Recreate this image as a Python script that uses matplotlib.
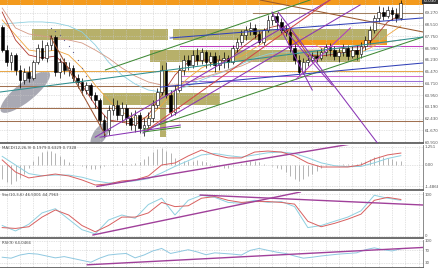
import matplotlib
matplotlib.use('Agg')
import matplotlib.pyplot as plt
from matplotlib.patches import Ellipse
from matplotlib.transforms import ScaledTranslation

# ---- candle data (index, open, high, low, close) ----
opens = [68.36, 66.87, 66.09, 66.55, 65.58, 64.93, 65.45, 65.06, 66.09, 67.00,
         66.35, 67.20, 67.71, 65.45, 66.09, 65.58, 65.71, 65.06, 64.80, 64.28,
         64.60, 63.96, 63.63, 62.34, 61.69, 62.98, 63.31, 62.66, 63.11, 62.47,
         62.01, 62.66, 61.82, 62.01, 62.47, 63.31, 64.15, 65.58, 63.96, 62.85,
         64.28, 65.58, 66.22, 65.90, 66.55, 66.22, 66.74, 66.09, 66.48, 65.90,
         66.22, 66.35, 66.09, 67.00, 67.39, 67.84, 68.17, 68.30, 67.91, 67.39,
         68.17, 68.82, 69.08, 68.69, 68.17, 68.04, 67.00, 66.22, 65.45, 66.09,
         66.22, 66.48, 66.35, 66.74, 67.07, 66.87, 66.48, 66.74, 67.00, 66.48,
         66.87, 66.61, 67.13, 67.52, 68.17, 68.95, 69.33, 69.08, 69.46, 69.20,
         68.95]
highs = [68.49, 67.20, 66.74, 66.68, 65.90, 65.71, 65.84, 66.22, 67.26, 67.52,
         67.39, 67.84, 67.84, 66.35, 66.35, 66.09, 65.90, 65.32, 65.06, 64.80,
         64.73, 64.15, 63.76, 62.66, 63.31, 63.76, 63.63, 63.50, 63.37, 62.85,
         62.98, 62.85, 62.47, 62.85, 63.63, 64.41, 65.90, 66.09, 64.28, 64.60,
         65.90, 66.55, 66.55, 66.87, 67.00, 67.00, 66.87, 66.74, 66.74, 66.55,
         66.74, 66.55, 67.20, 67.65, 68.17, 68.43, 68.69, 68.56, 68.17, 68.30,
         69.14, 69.33, 69.27, 68.95, 68.49, 68.30, 67.26, 66.55, 66.35, 66.55,
         66.74, 66.87, 67.00, 67.26, 67.33, 67.13, 67.00, 67.26, 67.20, 67.13,
         67.20, 67.39, 67.78, 68.43, 69.14, 69.72, 69.66, 69.72, 69.66, 69.59,
         70.11]
lows = [66.74, 65.84, 65.58, 65.25, 64.41, 64.67, 64.80, 64.93, 65.96, 66.22,
        66.09, 66.87, 65.19, 65.06, 65.32, 65.19, 64.80, 64.41, 63.96, 64.02,
        63.63, 63.11, 62.01, 61.23, 61.36, 62.66, 62.34, 62.21, 62.01, 61.69,
        61.56, 61.49, 61.30, 61.69, 62.21, 63.11, 63.96, 63.76, 62.60, 62.66,
        64.15, 65.25, 65.58, 65.71, 65.90, 65.96, 65.71, 65.84, 65.45, 65.58,
        65.71, 65.71, 65.96, 66.74, 67.20, 67.52, 67.84, 67.65, 67.26, 67.20,
        68.04, 68.49, 68.17, 67.97, 67.78, 66.74, 65.96, 65.25, 65.32, 65.84,
        66.09, 66.09, 66.22, 66.48, 66.48, 66.22, 66.09, 66.48, 66.22, 66.35,
        66.22, 66.35, 66.87, 67.26, 67.97, 68.69, 68.82, 68.95, 68.82, 68.69,
        68.82]
closes = [66.87, 66.09, 66.55, 65.58, 64.93, 65.45, 65.06, 66.09, 67.00, 66.35,
          67.20, 67.65, 65.45, 66.09, 65.58, 65.71, 65.06, 64.80, 64.28, 64.60,
          63.96, 63.63, 62.34, 61.69, 62.98, 63.31, 62.66, 63.11, 62.47, 62.01,
          62.66, 61.82, 62.01, 62.47, 63.31, 64.15, 65.58, 63.96, 62.85, 64.28,
          65.58, 66.22, 65.90, 66.55, 66.22, 66.74, 66.09, 66.48, 65.90, 66.22,
          66.35, 66.09, 67.00, 67.39, 67.84, 68.17, 68.30, 67.91, 67.39, 68.17,
          68.82, 69.08, 68.69, 68.17, 68.04, 67.00, 66.22, 65.45, 66.09, 66.22,
          66.48, 66.35, 66.74, 67.07, 66.87, 66.48, 66.74, 67.00, 66.48, 66.87,
          66.61, 67.13, 67.52, 68.17, 68.95, 69.33, 69.08, 69.46, 69.20, 68.95,
          69.92]
candle_idx = list(range(len(closes)))

# ---- moving averages, sampled every 3 bars ----
ma_idx = list(range(0, 91, 3))
ma_fast = [69.33, 67.52, 66.55, 66.35, 66.48, 65.71, 64.60, 63.31, 62.34, 62.21, 62.01,
           62.66, 63.96, 65.25, 66.09, 66.22, 66.22, 66.22, 67.00, 67.65, 68.30, 68.49,
           67.84, 66.55, 66.48, 66.61, 66.74, 66.87, 67.65, 68.69, 69.14]
ma_mid = [68.82, 67.84, 66.87, 66.74, 66.87, 66.55, 65.71, 64.60, 63.63, 62.85, 62.47,
          62.47, 63.31, 64.28, 65.06, 65.71, 66.09, 66.22, 66.48, 67.00, 67.52, 67.84,
          67.97, 67.52, 67.00, 66.74, 66.68, 66.74, 67.13, 67.84, 68.43]
ma_slow = [69.59, 68.30, 67.91, 67.78, 67.65, 67.52, 67.33, 66.87, 66.35, 65.71, 65.19,
           64.80, 64.60, 64.60, 64.80, 65.06, 65.32, 65.58, 65.84, 66.22, 66.48, 66.74,
           66.87, 66.87, 66.87, 66.94, 67.00, 67.07, 67.20, 67.39, 67.52]
ma_long = [68.56, 68.62, 68.69, 68.69, 68.62, 68.43, 68.04, 67.20, 66.09, 65.25, 64.67,
           64.28, 64.15, 64.28, 64.54, 64.93, 65.25, 65.58, 65.96, 66.35, 66.61, 66.74,
           66.74, 66.68, 66.61, 66.61, 66.68, 66.74, 66.87, 67.00, 67.13]

# parabolic SAR dots
sar_idx = [11, 12, 13, 14, 15, 16, 17, 18, 19, 20, 21, 22]
sar_val = [68.30, 68.10, 67.84, 67.52, 67.13, 66.74, 66.22, 65.71, 65.19, 64.60, 63.96, 63.31]

# ---- drawn objects on the price panel ----
# trend lines: (x0, p0, x1, p1, colour)
trend_lines = [
    (10.8, 67.78, 23.3, 61.36, '#9b5230'),
    (58.2, 70.11, 95.0, 68.04, '#9b5a2e'),
    (23.3, 65.58, 69.5, 70.11, '#3f8a36'),
    (31.8, 61.69, 95.0, 67.71, '#3f8a36'),
    (-0.5, 64.15, 95.0, 67.71, '#2f8f8f'),
    (37.9, 67.65, 95.0, 68.95, '#3342b8'),
    (35.7, 64.47, 95.0, 66.03, '#3342b8'),
    (62.3, 69.33, 84.7, 60.85, '#8a35b5'),
    (60.9, 69.33, 70.0, 64.28, '#8a35b5'),
    (63.4, 68.30, 74.5, 64.60, '#8a35b5'),
    (21.0, 61.23, 74.0, 70.11, '#8a35b5'),
    (31.8, 61.49, 80.8, 69.79, '#8a35b5'),
    (32.7, 61.69, 74.0, 70.11, '#d04848'),
    (66.4, 64.99, 78.6, 68.30, '#b040c0'),
    (22.1, 61.23, 40.2, 62.01, '#8a35b5'),
    (31.8, 61.56, 40.2, 61.88, '#3f8a36'),
]
# horizontal levels: (price, x0, x1, colour)
levels = [
    (65.51, -0.5, 95.0, '#e8a84a'),
    (64.54, -0.5, 95.0, '#a07050'),
    (67.13, 40.2, 95.0, '#c040c0'),
    (65.19, 40.2, 95.0, '#d070d0'),
    (64.86, 40.2, 95.0, '#9a70d8'),
    (63.11, -0.5, 40.0, '#a07050'),
    (62.27, -0.5, 95.0, '#a07050'),
    (69.27, 56.7, 95.0, '#a08060'),
]
# zones: (x0, x1, p0, p1, colour)
zones = [
    (-0.5, 95.0, 69.79, 70.11, '#f39a1d'),
    (6.8, 86.9, 67.52, 68.23, '#b7b06a'),
    (64.6, 86.9, 67.20, 67.52, '#f39a1d'),
    (22.8, 49.2, 63.31, 64.09, '#b7b06a'),
    (33.4, 80.8, 66.09, 66.87, '#b7b06a'),
    (35.7, 37.0, 61.23, 66.09, '#b7b06a'),
    (37.5, 38.6, 67.20, 68.23, '#ffffff'),
]
# shaded ellipses: (x, price, width_in, height_in, angle)
ellipses = [
    (5.2, 64.15, 0.62, 0.19, 39),
    (22.1, 61.40, 0.28, 0.13, 55),
]
price_ticks = [60.91, 61.67, 62.43, 63.19, 63.95, 64.71, 65.47, 66.23, 66.99,
               67.75, 68.51, 69.27]

# ---- MACD ----
macd_line = [0.35, -0.49, -0.90, -0.76, -0.63, -0.76, -1.04, -1.39, -1.32, -1.11, -1.04,
             -0.76, 0.00, 0.14, 0.63, 1.04, 0.70, 0.49, 0.49, 0.90, 0.97, 0.90,
             0.63, 0.14, -0.14, -0.14, -0.14, 0.00, 0.42, 0.70, 0.83]
macd_signal = [0.60, 0.00, -0.60, -0.75, -0.70, -0.70, -0.85, -1.10, -1.25, -1.20, -1.10,
               -0.95, -0.55, -0.10, 0.30, 0.70, 0.80, 0.65, 0.55, 0.70, 0.85, 0.90,
               0.80, 0.50, 0.15, -0.05, -0.12, -0.10, 0.15, 0.45, 0.65]
macd_hist = [-1.0, -1.2, -1.3, -1.1, -0.9, -0.6,
             -0.2, 0.3, 0.6, 0.9, 1.0, 1.0, 0.8, 0.6,
             0.4, 0.2, 0.1, 0.0, -0.1, -0.2, -0.3,
             -0.3, -0.2, -0.1, 0.0, 0.1, 0.1, 0.15, 0.1, 0.1, 0.15, 0.2,
             0.4, 0.6, 0.9, 1.1, 1.2, 1.0, 0.8, 0.5, 0.3,
             0.3, 0.3, 0.3, 0.35, 0.3, 0.2, 0.1, 0.0, -0.1, -0.2,
             -0.2, -0.1, 0.0, 0.1, 0.2, 0.3, 0.3, 0.2,
             0.1, 0.0, -0.1, -0.2, -0.3, -0.5,
             -0.8, -1.0, -1.1, -1.0, -0.8, -0.6, -0.4, -0.2,
             -0.1, 0.0, 0.0, 0.0, 0.05, 0.1, 0.1, 0.1, 0.2,
             0.3, 0.45, 0.55, 0.6, 0.55, 0.5, 0.4, 0.3, 0.25]
macd_trend = [(21.4, -1.49, 80.1, 1.53)]

# ---- Stochastic ----
stoch_k = [25, 12, 28, 55, 65, 40, 15, 5, 38, 50, 42, 75, 90, 50, 85, 97, 92, 80, 78, 85,
           80, 82, 70, 20, 25, 35, 45, 60, 97, 90, 85]
stoch_d = [20, 18, 22, 45, 62, 50, 25, 10, 25, 45, 45, 55, 80, 70, 72, 90, 94, 85, 80, 82,
           82, 80, 76, 35, 22, 30, 40, 52, 85, 92, 87]
stoch_trend = [(20.5, 2.4, 67.3, 104.8), (44.7, 97.6, 95.0, 73.8)]

# ---- RSI ----
rsi_idx = list(range(0, 91, 2))
rsi = [48, 45, 55, 60, 58, 52, 46, 50, 44, 38, 32, 45, 55, 58, 60, 46, 55, 68, 76, 60,
       66, 72, 65, 56, 62, 60, 58, 55, 70, 76, 70, 64, 60, 52, 45, 48, 52, 55, 58, 60,
       62, 72, 78, 72, 68, 75]
rsi_trend = [(19.2, 23.8, 95.0, 79.2)]

TXT = '#555555'
GRID = '#c8c8c8'
XMAX = 95.0
LW = 0.75

fig = plt.figure(figsize=(4.39, 2.68), dpi=100)
fig.patch.set_facecolor('white')
w = 423 / 439
ax = fig.add_axes([0, 1 - 143 / 268, w, 143 / 268])
ax_macd = fig.add_axes([0, 1 - 190 / 268, w, 45 / 268], sharex=ax)
ax_sto = fig.add_axes([0, 1 - 238 / 268, w, 46 / 268], sharex=ax)
ax_rsi = fig.add_axes([0, 0, w, 28 / 268], sharex=ax)

for a in (ax, ax_macd, ax_sto, ax_rsi):
    a.set_facecolor('white')
    a.set_xlim(-0.5, XMAX)
    a.set_xticks(range(1, 95, 3))
    a.grid(True, ls=(0, (1, 1.5)), color=GRID, lw=0.5, zorder=0)
    a.tick_params(axis='x', length=0, labelbottom=False)
    a.tick_params(axis='y', length=0, labelsize=2.9, pad=1.0, colors=TXT,
                  labelright=True, labelleft=False)
    for s in ('top', 'left'):
        a.spines[s].set_visible(False)
    a.spines['right'].set_color('#777777')
    a.spines['right'].set_linewidth(0.6)
    a.spines['bottom'].set_color('#555555')
    a.spines['bottom'].set_linewidth(1.2)

# ---- price panel ----
ax.set_ylim(60.85, 70.11)
ax.set_yticks(price_ticks)
ax.set_yticklabels(['%.3f' % v for v in price_ticks])

for x0, x1, p0, p1, c in zones:
    ax.fill_between([x0, x1], p0, p1, color=c, lw=0, zorder=1)

for x, p, ew, eh, ang in ellipses:
    tr = fig.dpi_scale_trans + ScaledTranslation(x, p, ax.transData)
    ax.add_patch(Ellipse((0, 0), ew, eh, angle=ang, transform=tr,
                         facecolor='#9a9aa6', edgecolor='none', alpha=0.85, zorder=1.5))

for p, x0, x1, c in levels:
    ax.plot([x0, x1], [p, p], color=c, lw=LW, zorder=2)

ax.plot(ma_idx, ma_long, color='#8fd0e0', lw=0.6, zorder=2)
ax.plot(ma_idx, ma_slow, color='#d49a86', lw=0.6, zorder=2)
ax.plot(ma_idx, ma_mid, color='#efa640', lw=0.6, zorder=2)
ax.plot(ma_idx, ma_fast, color='#b03a2e', lw=0.6, zorder=2)
ax.scatter(sar_idx, sar_val, s=0.8, color='#606090', zorder=2.5, lw=0)

body_h = [c - o for o, c in zip(opens, closes)]
colors = ['white' if c >= o else 'black' for o, c in zip(opens, closes)]
ax.vlines(candle_idx, lows, highs, color='black', lw=0.5, zorder=3)
ax.bar(candle_idx, body_h, bottom=opens, width=0.62, color=colors,
       edgecolor='black', lw=0.4, zorder=3.2)

for x0, p0, x1, p1, c in trend_lines:
    ax.plot([x0, x1], [p0, p1], color=c, lw=LW, zorder=4)

ax.text(1.0, 70.03, '70.030', transform=ax.get_yaxis_transform(), fontsize=2.9,
        color='white', va='center', ha='left',
        bbox=dict(boxstyle='square,pad=0.25', fc='#333333', ec='none'), clip_on=False)

# ---- MACD panel ----
ax_macd.set_ylim(-1.74, 1.39)
ax_macd.set_yticks([1.251, 0.0, -1.4868])
ax_macd.set_yticklabels(['1.251', '0.00', '-1.4868'])
ax_macd.vlines(candle_idx, 0, macd_hist, color='#a8a8a8', lw=0.6, zorder=2)
ax_macd.plot(ma_idx, macd_signal, color='#8fd0e0', lw=0.7, zorder=3)
ax_macd.plot(ma_idx, macd_line, color='#d86060', lw=0.7, zorder=3)
for x0, v0, x1, v1 in macd_trend:
    ax_macd.plot([x0, x1], [v0, v1], color='#a0409a', lw=1.0, zorder=4)
ax_macd.text(0.005, 0.97, 'MACD(12,26,9) 0.1979 0.6329 0.7328', transform=ax_macd.transAxes,
             fontsize=2.8, color='#444444', va='top')

# ---- Stochastic panel ----
ax_sto.set_ylim(-4.8, 104.8)
ax_sto.set_yticks([100, 0])
ax_sto.set_yticklabels(['100', '0'])
ax_sto.plot(ma_idx, stoch_k, color='#8fd0e0', lw=0.7, zorder=3)
ax_sto.plot(ma_idx, stoch_d, color='#d86060', lw=0.7, zorder=3)
for x0, v0, x1, v1 in stoch_trend:
    ax_sto.plot([x0, x1], [v0, v1], color='#a0409a', lw=1.0, zorder=4)
ax_sto.text(0.005, 0.97, 'Sto(10,3,6) 46.5001 44.7963', transform=ax_sto.transAxes,
            fontsize=2.8, color='#444444', va='top')

# ---- RSI panel ----
ax_rsi.set_ylim(13.6, 103)
ax_rsi.set_yticks([100, 70, 30])
ax_rsi.set_yticklabels(['100', '70', '30'])
ax_rsi.plot(rsi_idx, rsi, color='#8fc8e0', lw=0.7, zorder=3)
for x0, v0, x1, v1 in rsi_trend:
    ax_rsi.plot([x0, x1], [v0, v1], color='#a0409a', lw=1.0, zorder=4)
ax_rsi.text(0.005, 0.95, 'RSI(9) 64.0466', transform=ax_rsi.transAxes,
            fontsize=2.8, color='#444444', va='top')

fig.savefig('out.png', dpi=100)
